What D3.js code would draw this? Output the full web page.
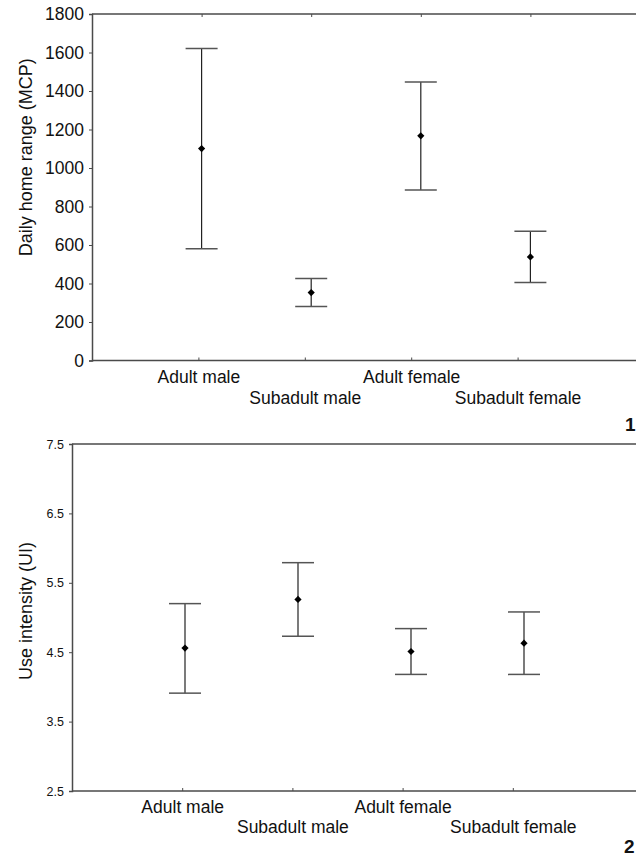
<!DOCTYPE html>
<html>
<head>
<meta charset="utf-8">
<script src="https://cdn.jsdelivr.net/npm/d3@7"></script>
<style>
  html, body { margin: 0; padding: 0; background: #fff; }
  svg { display: block; font-family: "Liberation Sans", Arial, sans-serif; }
</style>
</head>
<body>
<svg id="chart" width="636" height="858"></svg>
<script>
// ---- Data ----
const categories = ["Adult male", "Subadult male", "Adult female", "Subadult female"];

// Figure 1: Daily home range (MCP)
const homeMean  = [1101, 353, 1167, 538];
const homeLower = [580, 280, 886, 405];
const homeUpper = [1621, 426, 1447, 672];
const homeTicks = [0, 200, 400, 600, 800, 1000, 1200, 1400, 1600, 1800];

// Figure 2: Use intensity (UI)
const uiMean  = [4.56, 5.26, 4.51, 4.63];
const uiLower = [3.91, 4.73, 4.18, 4.18];
const uiUpper = [5.20, 5.79, 4.84, 5.08];
const uiTicks = [2.5, 3.5, 4.5, 5.5, 6.5, 7.5];

const svg = d3.select("#chart");
const axisColor = "#4a4a4a";

function panel(cfg) {
  const g = svg.append("g");
  const x = d3.scaleLinear().domain([0, 5]).range([cfg.left, cfg.markRight]);
  const xLab = d3.scaleLinear().domain([0, 5]).range([cfg.left, cfg.labRight]);
  const y = d3.scaleLinear().domain(cfg.yDomain).range([cfg.bottom, cfg.top]);

  // top frame line (extends beyond the image edge)
  g.append("line").attr("x1", cfg.left).attr("x2", 700)
    .attr("y1", y(cfg.yDomain[1])).attr("y2", y(cfg.yDomain[1]))
    .attr("stroke", axisColor).attr("stroke-width", 1.5);

  // y axis
  const yAxis = d3.axisLeft(y).tickValues(cfg.yTicks).tickSize(3).tickPadding(5)
    .tickFormat(cfg.yFormat);
  const ya = g.append("g").attr("transform", `translate(${cfg.left},0)`).call(yAxis);
  ya.select(".domain").attr("stroke", axisColor).attr("stroke-width", 1.5);
  ya.selectAll(".tick line").attr("stroke", axisColor);
  ya.selectAll("text").attr("font-size", cfg.yFont).attr("fill", "#111")
    .attr("font-family", "Liberation Sans, Arial, sans-serif");

  // bottom axis line
  g.append("line").attr("x1", cfg.left).attr("x2", 700)
    .attr("y1", cfg.bottom).attr("y2", cfg.bottom)
    .attr("stroke", axisColor).attr("stroke-width", 1.5);

  // bottom ticks (inward) & labels staggered
  const xAxis = d3.axisBottom(xLab).tickValues([1, 2, 3, 4]).tickSize(-3)
    .tickFormat(d => categories[d - 1]);
  const xa = g.append("g").attr("transform", `translate(0,${cfg.bottom})`).call(xAxis);
  xa.select(".domain").remove();
  xa.selectAll(".tick line").attr("stroke", axisColor);
  xa.selectAll("text")
    .attr("font-size", 17.5).attr("fill", "#111")
    .attr("font-family", "Liberation Sans, Arial, sans-serif")
    .attr("dy", null)
    .attr("y", (d, i) => i % 2 === 0 ? cfg.lab1 : cfg.lab2);

  if (cfg.topTicks) {
    const ta = g.append("g").attr("transform", `translate(0,${cfg.top})`)
      .call(d3.axisTop(x).tickValues([1, 2, 3, 4]).tickSize(-3).tickFormat(""));
    ta.select(".domain").remove();
    ta.selectAll(".tick line").attr("stroke", axisColor);
  }

  // y axis title
  g.append("text")
    .attr("transform", `translate(${cfg.titleX},${(cfg.top + cfg.bottom) / 2 + cfg.titleDy}) rotate(-90)`)
    .attr("text-anchor", "middle").attr("font-size", 18).attr("fill", "#111")
    .text(cfg.title);

  // error bars
  const data = categories.map((c, i) => ({ i: i + 1, m: cfg.mean[i], lo: cfg.lower[i], hi: cfg.upper[i] }));
  const eb = g.selectAll(".eb").data(data).enter().append("g");
  eb.append("line").attr("x1", d => x(d.i)).attr("x2", d => x(d.i))
    .attr("y1", d => y(d.lo)).attr("y2", d => y(d.hi))
    .attr("stroke", "#222").attr("stroke-width", 1.2);
  eb.append("line").attr("x1", d => x(d.i) - 16).attr("x2", d => x(d.i) + 16)
    .attr("y1", d => y(d.hi)).attr("y2", d => y(d.hi))
    .attr("stroke", "#555").attr("stroke-width", 1.5);
  eb.append("line").attr("x1", d => x(d.i) - 16).attr("x2", d => x(d.i) + 16)
    .attr("y1", d => y(d.lo)).attr("y2", d => y(d.lo))
    .attr("stroke", "#555").attr("stroke-width", 1.5);
  eb.append("path")
    .attr("d", d3.symbol().type(d3.symbolSquare).size(26))
    .attr("transform", d => `translate(${x(d.i)},${y(d.m)}) rotate(45)`)
    .attr("fill", "#000");

  // panel number
  g.append("text").attr("x", cfg.numX).attr("y", cfg.numY)
    .attr("font-size", 19).attr("font-weight", "bold").attr("fill", "#111")
    .text(cfg.num);
}

panel({
  left: 92, top: 14, bottom: 360.5, markRight: 640, labRight: 624,
  yDomain: [0, 1800], yTicks: homeTicks, yFormat: d3.format("d"), yFont: 17.5,
  mean: homeMean, lower: homeLower, upper: homeUpper,
  title: "Daily home range (MCP)", titleX: 32, titleDy: -30,
  lab1: 22.5, lab2: 43.5, topTicks: true,
  num: "1", numX: 625, numY: 431
});

panel({
  left: 72, top: 444, bottom: 791, markRight: 637, labRight: 623,
  yDomain: [2.5, 7.5], yTicks: uiTicks, yFormat: d3.format(".1f"), yFont: 12.5,
  mean: uiMean, lower: uiLower, upper: uiUpper,
  title: "Use intensity (UI)", titleX: 32, titleDy: -6.5,
  lab1: 21.7, lab2: 42.3, topTicks: false,
  num: "2", numX: 624, numY: 853
});
</script>
</body>
</html>
